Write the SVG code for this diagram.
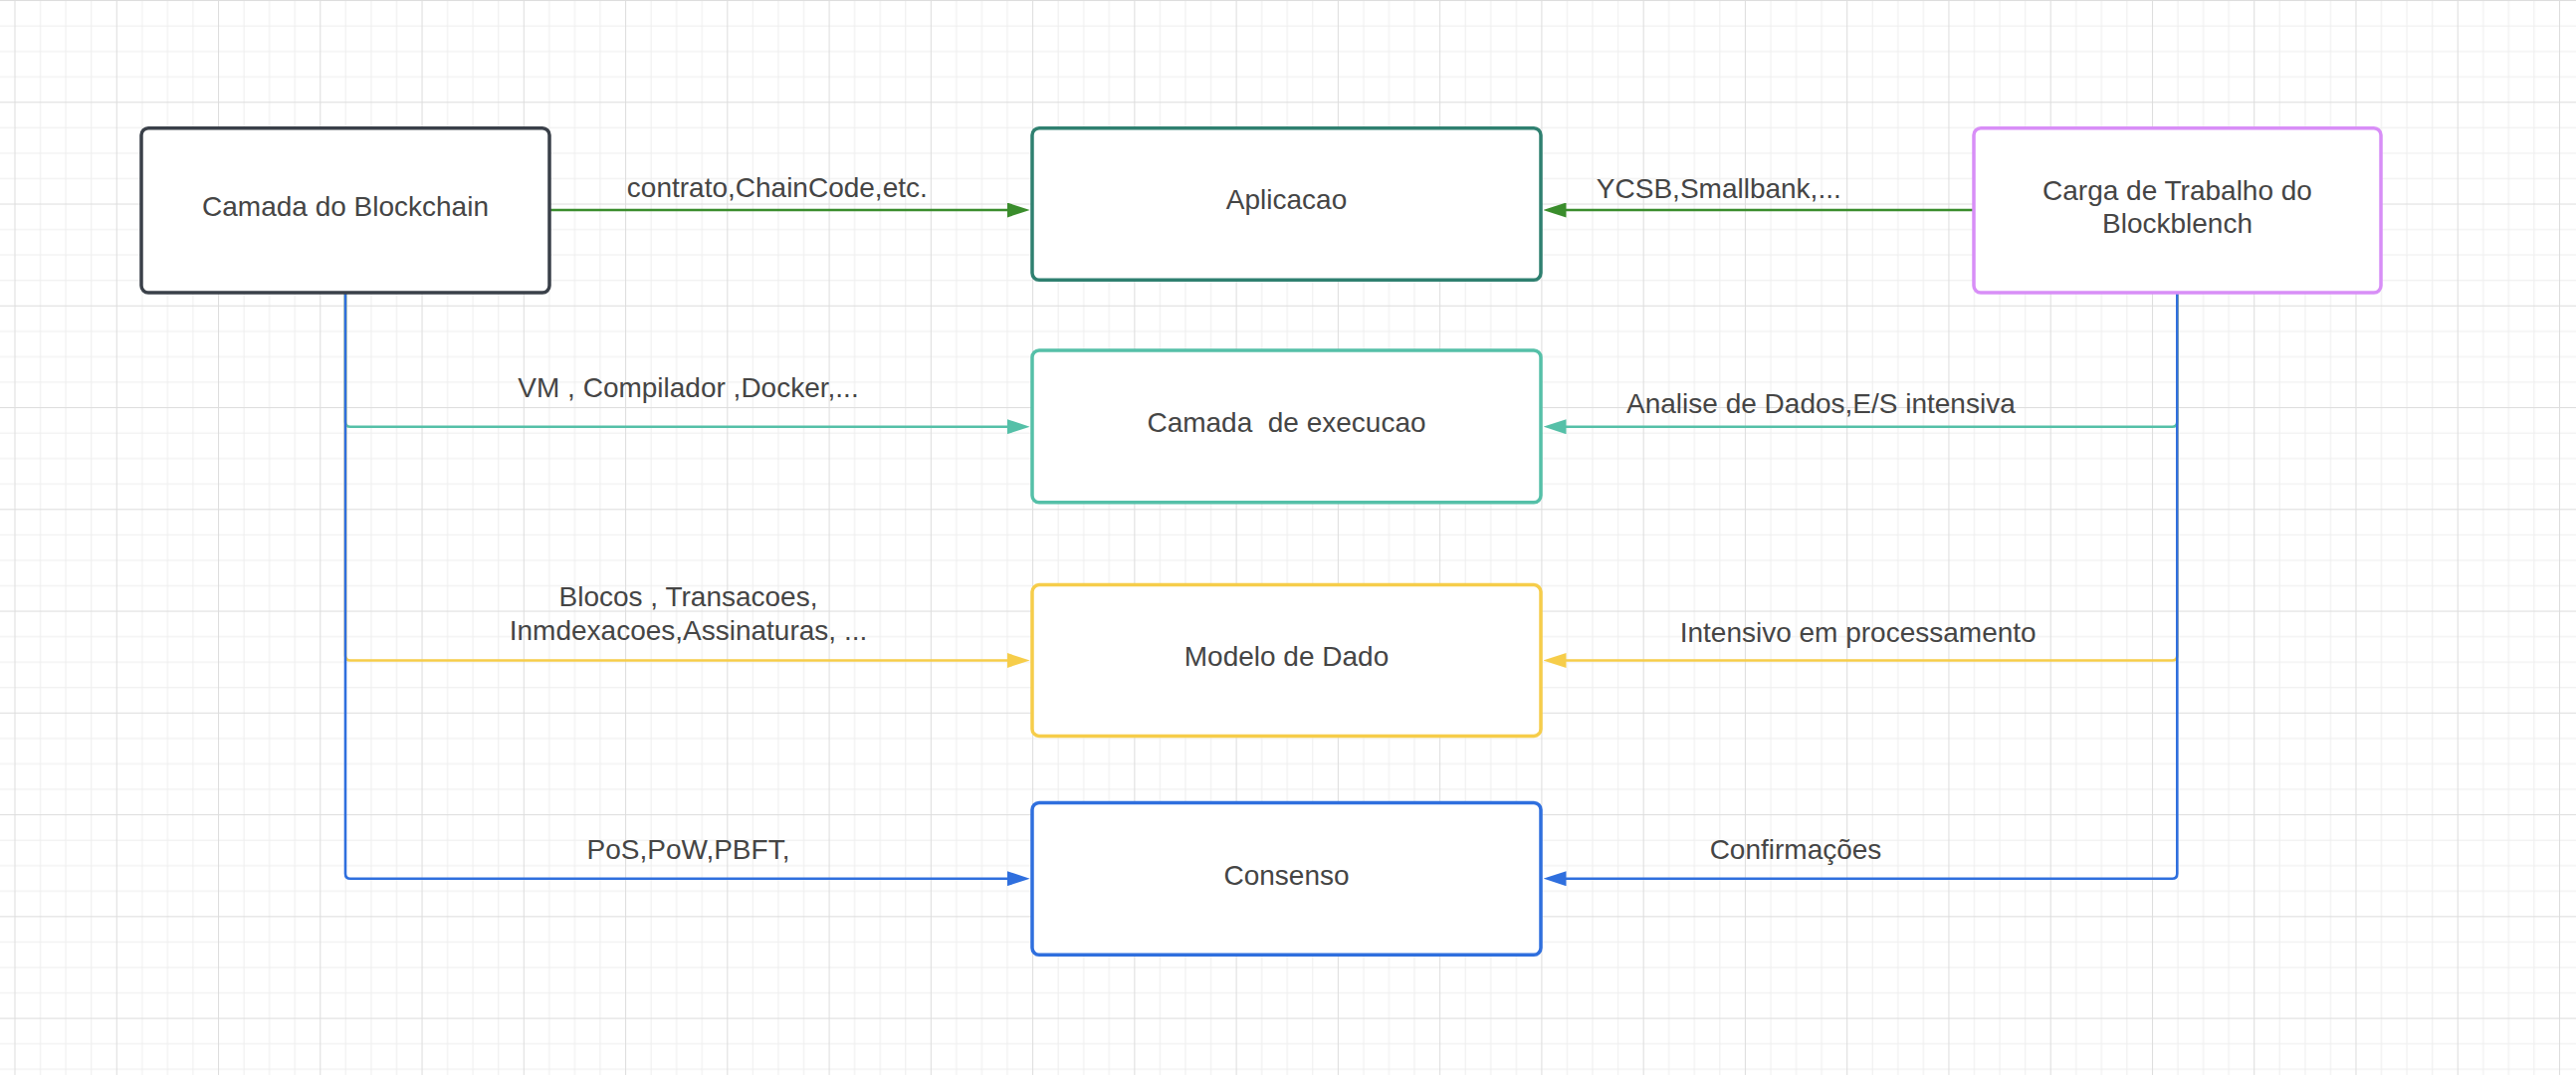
<svg xmlns="http://www.w3.org/2000/svg" width="2588" height="1080" viewBox="0 0 2588 1080">
<defs>
<pattern id="grid" patternUnits="userSpaceOnUse" x="14.5" y="0" width="102.26" height="102.26">
<rect x="0" y="0" width="102.26" height="102.26" fill="#ffffff"/>
<rect x="25.56" y="0" width="1" height="102.26" fill="#eeeeee"/>
<rect x="51.13" y="0" width="1" height="102.26" fill="#eeeeee"/>
<rect x="76.7" y="0" width="1" height="102.26" fill="#eeeeee"/>
<rect x="0" y="25.56" width="102.26" height="1" fill="#eeeeee"/>
<rect x="0" y="51.13" width="102.26" height="1" fill="#eeeeee"/>
<rect x="0" y="76.7" width="102.26" height="1" fill="#eeeeee"/>
<rect x="0" y="0" width="1" height="102.26" fill="#dddddd"/>
<rect x="0" y="0" width="102.26" height="1" fill="#dddddd"/>
</pattern>
<marker id="aGreen" viewBox="0 0 23 15" refX="3" refY="7.5" markerWidth="23" markerHeight="15" markerUnits="userSpaceOnUse" orient="auto"><path d="M0,0 L23,7.5 L0,15 Z" fill="#3a8d2c"/></marker>
<marker id="aTeal" viewBox="0 0 23 15" refX="3" refY="7.5" markerWidth="23" markerHeight="15" markerUnits="userSpaceOnUse" orient="auto"><path d="M0,0 L23,7.5 L0,15 Z" fill="#55c0a8"/></marker>
<marker id="aYellow" viewBox="0 0 23 15" refX="3" refY="7.5" markerWidth="23" markerHeight="15" markerUnits="userSpaceOnUse" orient="auto"><path d="M0,0 L23,7.5 L0,15 Z" fill="#f6cd4a"/></marker>
<marker id="aBlue" viewBox="0 0 23 15" refX="3" refY="7.5" markerWidth="23" markerHeight="15" markerUnits="userSpaceOnUse" orient="auto"><path d="M0,0 L23,7.5 L0,15 Z" fill="#2f6fde"/></marker>
</defs>
<style>
.box{fill:#ffffff;stroke-width:3.5}
.t{font-family:"Liberation Sans",Arial,sans-serif;font-size:28px;fill:#454545;text-anchor:middle}
.c{fill:none;stroke-width:2.6;stroke-linejoin:round}
.green{stroke:#3a8d2c}
.teal{stroke:#55c0a8}
.yellow{stroke:#f6cd4a}
.blue{stroke:#2f6fde}
</style>
<rect x="0" y="0" width="2588" height="1080" fill="url(#grid)"/>

<g id="connectors">
<path class="c green" d="M552,211 H1014.7" marker-end="url(#aGreen)"/>
<path class="c green" d="M1983,211 H1570.5" marker-end="url(#aGreen)"/>
<path class="c teal" d="M347,294 V423.7 Q347,428.7 352,428.7 H1014.7" marker-end="url(#aTeal)"/>
<path class="c teal" d="M2187.3,294 V423.7 Q2187.3,428.7 2182.3,428.7 H1570.5" marker-end="url(#aTeal)"/>
<path class="c yellow" d="M347,294 V658.5 Q347,663.5 352,663.5 H1014.7" marker-end="url(#aYellow)"/>
<path class="c yellow" d="M2187.3,294 V658.5 Q2187.3,663.5 2182.3,663.5 H1570.5" marker-end="url(#aYellow)"/>
<path class="c blue" d="M347,294 V877.7 Q347,882.7 352,882.7 H1014.7" marker-end="url(#aBlue)"/>
<path class="c blue" d="M2187.3,294 V877.7 Q2187.3,882.7 2182.3,882.7 H1570.5" marker-end="url(#aBlue)"/>
<text class="t" x="780.8" y="198">contrato,ChainCode,etc.</text>
<text class="t" x="1726.8" y="199">YCSB,Smallbank,...</text>
<text class="t" x="691.5" y="399">VM , Compilador ,Docker,...</text>
<text class="t" x="1829.4" y="414.7">Analise de Dados,E/S intensiva</text>
<text class="t" x="691.5" y="609.3">Blocos , Transacoes,</text>
<text class="t" x="691.5" y="642.7">Inmdexacoes,Assinaturas, ...</text>
<text class="t" x="1866.7" y="645">Intensivo em processamento</text>
<text class="t" x="691.5" y="862.7">PoS,PoW,PBFT,</text>
<text class="t" x="1804" y="862.7">Confirmações</text>
</g>

<g id="node-blockchain">
<rect class="box" x="142" y="128.7" width="410" height="165.3" rx="7" stroke="#3a4049"/>
<text class="t" x="347" y="217">Camada do Blockchain</text>
</g>
<g id="node-aplicacao">
<rect class="box" x="1037" y="128.7" width="511" height="152.6" rx="7" stroke="#2f8070"/>
<text class="t" x="1292.5" y="210">Aplicacao</text>
</g>
<g id="node-carga">
<rect class="box" x="1983" y="128.7" width="409" height="165.3" rx="7" stroke="#d88ef7"/>
<text class="t" x="2187.5" y="200.7">Carga de Trabalho do</text>
<text class="t" x="2187.5" y="234">Blockblench</text>
</g>
<g id="node-execucao">
<rect class="box" x="1037" y="352" width="511" height="152.7" rx="7" stroke="#55c0a8"/>
<text class="t" x="1292.5" y="434" xml:space="preserve">Camada  de execucao</text>
</g>
<g id="node-modelo">
<rect class="box" x="1037" y="587.6" width="511" height="151.8" rx="7" stroke="#f6cd4a"/>
<text class="t" x="1292.5" y="669.2">Modelo de Dado</text>
</g>
<g id="node-consenso">
<rect class="box" x="1037" y="806.5" width="511" height="152.8" rx="7" stroke="#2f6fde"/>
<text class="t" x="1292.5" y="888.7">Consenso</text>
</g>
</svg>
